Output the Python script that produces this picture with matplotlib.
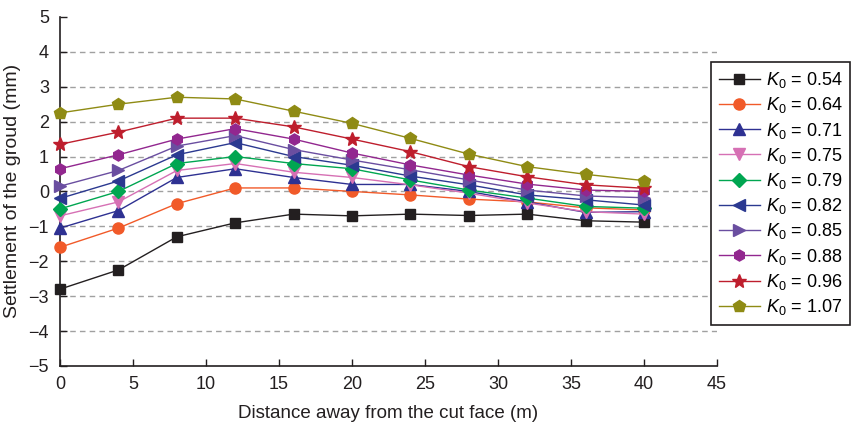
import matplotlib
matplotlib.use("Agg")
import matplotlib.pyplot as plt

plt.rcParams['font.family'] = ['Liberation Sans', 'DejaVu Sans']
plt.rcParams['mathtext.fontset'] = 'custom'
plt.rcParams['mathtext.rm'] = 'Liberation Sans'
plt.rcParams['mathtext.it'] = 'Liberation Sans:italic'

distance = [0, 4, 8, 12, 16, 20, 24, 28, 32, 36, 40]
k0_labels = ["0.54", "0.64", "0.71", "0.75", "0.79", "0.82", "0.85", "0.88", "0.96", "1.07"]

s054 = [-2.80, -2.25, -1.30, -0.90, -0.65, -0.70, -0.65, -0.69, -0.65, -0.84, -0.88]
s064 = [-1.60, -1.05, -0.35, 0.10, 0.10, 0.00, -0.10, -0.22, -0.30, -0.47, -0.53]
s071 = [-1.05, -0.55, 0.40, 0.65, 0.40, 0.20, 0.20, 0.00, -0.30, -0.60, -0.58]
s075 = [-0.70, -0.30, 0.60, 0.80, 0.55, 0.40, 0.19, -0.05, -0.33, -0.58, -0.65]
s079 = [-0.50, 0.00, 0.80, 1.00, 0.80, 0.65, 0.33, 0.04, -0.19, -0.43, -0.48]
s082 = [-0.20, 0.30, 1.05, 1.40, 1.00, 0.75, 0.44, 0.19, -0.10, -0.24, -0.39]
s085 = [0.15, 0.60, 1.30, 1.60, 1.20, 0.90, 0.62, 0.33, 0.04, -0.13, -0.18]
s088 = [0.65, 1.05, 1.50, 1.80, 1.50, 1.10, 0.76, 0.47, 0.21, 0.04, 0.00]
s096 = [1.35, 1.70, 2.10, 2.10, 1.85, 1.50, 1.14, 0.71, 0.42, 0.19, 0.09]
s107 = [2.25, 2.50, 2.70, 2.65, 2.30, 1.95, 1.52, 1.07, 0.71, 0.49, 0.31]

series = [s054, s064, s071, s075, s079, s082, s085, s088, s096, s107]
colors = ['#231f20', '#f15a29', '#2e3192', '#d670b4', '#00a651',
          '#2b3990', '#6a4ea0', '#92278f', '#be1e2d', '#8f8b14']
markers = ['s', 'o', '^', 'v', 'D', '<', '>', 'h', '*', 'p']
msizes = [7, 8, 8, 8, 7, 8, 8, 8, 10, 9]

fig = plt.figure(figsize=(8.54, 4.24), dpi=100)
ax = fig.add_axes([0.0703, 0.137, 0.7693, 0.823])

for vals, lab, c, m, ms in zip(series, k0_labels, colors, markers, msizes):
    ax.plot(distance, vals, color=c, marker=m, markersize=ms, linewidth=1.0,
            label=r'$K_0$ = ' + lab, clip_on=False, zorder=3)

ax.set_xlim(0, 45)
ax.set_ylim(-5, 5)
ax.set_xticks(range(0, 46, 5))
ax.set_yticks(range(-5, 6, 1))
ax.set_yticklabels([str(v).replace('-', '\u2212') for v in range(-5, 6)])
for y in range(-4, 5):
    ax.axhline(y, color='#a0a0a0', linestyle=(0, (4, 3)), linewidth=1.0, zorder=1)

for side in ['top', 'right']:
    ax.spines[side].set_visible(False)
for side in ['left', 'bottom']:
    ax.spines[side].set_linewidth(1.2)
    ax.spines[side].set_color('#231f20')

ax.tick_params(axis='both', direction='in', length=5, width=1.0, labelsize=13,
               colors='#231f20')
ax.tick_params(axis='y', pad=8)
ax.tick_params(axis='x', pad=7)

ax.set_xlabel('Distance away from the cut face (m)', fontsize=13.5, color='#231f20', labelpad=9)
ax.set_ylabel('Settlement of the groud (mm)', fontsize=14, color='#231f20', labelpad=5)

leg = fig.legend(loc='upper left', bbox_to_anchor=(0.832, 0.854), fontsize=13,
                 frameon=True, fancybox=False, edgecolor='#231f20', framealpha=1,
                 handlelength=2.3, handletextpad=0.3, labelspacing=0.29,
                 borderpad=0.45, borderaxespad=0)
leg.get_frame().set_linewidth(1.2)

fig.savefig('out.png', dpi=100)
